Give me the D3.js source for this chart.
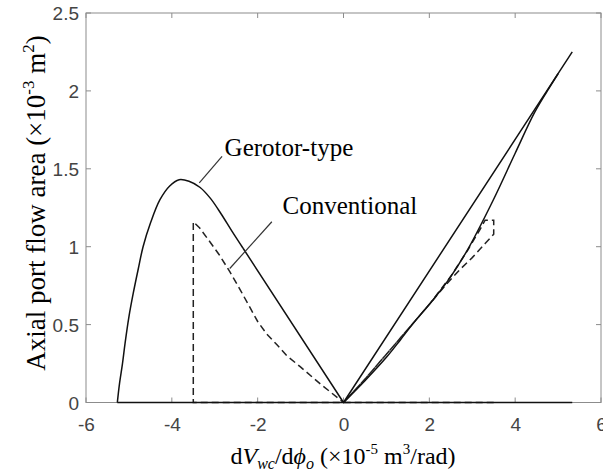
<!DOCTYPE html>
<html><head><meta charset="utf-8">
<script src="https://cdn.jsdelivr.net/npm/d3@7"></script>
<style>body{margin:0;background:#fff}</style>
</head><body><svg id="c" width="603" height="472"></svg>
<script>
// ---- data ----
const xTicks = [-6,-4,-2,0,2,4,6];
const xTickLabels = ["-6","-4","-2","0","2","4","6"];
const yTicks = [0,0.5,1,1.5,2,2.5];
const yTickLabels = ["0","0.5","1","1.5","2","2.5"];
// Gerotor-type segments
const gerBaseX = [5.33,-5.27];
const gerBaseY = [0,0];
const gerHumpX = [-5.27,-5.22,-5.15,-5.09,-5.0,-4.9,-4.78,-4.67,-4.5,-4.28,-4.05,-3.83,-3.6,-3.34,-3.1,-2.85,-2.6,-2.34];
const gerHumpY = [0,0.12,0.25,0.38,0.55,0.70,0.86,1.0,1.15,1.30,1.39,1.43,1.42,1.38,1.31,1.21,1.10,0.99];
const gerLinX = [-2.34,0,5.33];
const gerLinY = [0.99,0,2.25];
const gerLowX = [0,0.5,1.0,1.32,1.63,2.09,2.48,2.91,3.49,4.0,4.45,4.75,5.0];
const gerLowY = [0,0.14,0.29,0.40,0.51,0.66,0.80,0.99,1.30,1.60,1.86,2.0,2.11];
// Conventional
const convX = [3.5,-3.5,-3.5,-3.35,-3.11,-2.9,-2.65,-2.4,-2.18,-2.0,-1.79,-1.55,-1.32,-1.01,-0.5,0,0.5,1.0,1.5,2.0,2.5,2.9,3.2,3.3,3.5,3.5,3.3,3.0,2.7,2.4,2.0,1.5,1.0,0.5,0];
const convY = [0,0,1.16,1.12,1.03,0.95,0.84,0.72,0.61,0.52,0.44,0.37,0.30,0.23,0.11,0,0.15,0.31,0.47,0.63,0.81,0.98,1.12,1.17,1.17,1.08,1.02,0.93,0.85,0.76,0.63,0.47,0.31,0.15,0];
const labels = [
  {text:"Gerotor-type", tx:-2.77, ty:1.58, lx:[-3.36,-2.83], ly:[1.41,1.58]},
  {text:"Conventional", tx:-1.42, ty:1.21, lx:[-2.65,-1.67], ly:[0.86,1.16]}
];

const svg = d3.select("#c");
const L=86, R=601, T=13, B=402.5;
const x = d3.scaleLinear().domain([-6,6]).range([L,R]);
const y = d3.scaleLinear().domain([0,2.5]).range([B,T]);
const boxCol = "#8c8c8c", tickTxt = "#444";

svg.append("rect").attr("x",L).attr("y",T).attr("width",R-L).attr("height",B-T)
  .attr("fill","none").attr("stroke",boxCol).attr("stroke-width",1);

const tl = 5;
const bottom = d3.axisBottom(x).tickValues(xTicks).tickSize(0).tickPadding(0).tickFormat((d,i)=>xTickLabels[i]);
const gB = svg.append("g").attr("transform",`translate(0,${B})`).call(bottom);
gB.select(".domain").remove();
gB.selectAll("text").attr("dy",null).attr("y",28).attr("fill",tickTxt)
  .style("font-family","'Liberation Sans',Arial,sans-serif").style("font-size","19px");
const left = d3.axisLeft(y).tickValues(yTicks).tickSize(0).tickPadding(0).tickFormat((d,i)=>yTickLabels[i]);
const gL = svg.append("g").attr("transform",`translate(${L},0)`).call(left);
gL.select(".domain").remove();
gL.selectAll("text").attr("x",-7).attr("dy","0.35em").attr("fill",tickTxt)
  .style("font-family","'Liberation Sans',Arial,sans-serif").style("font-size","19px");

const tg = svg.append("g").attr("stroke",boxCol).attr("stroke-width",1);
xTicks.forEach(v=>{
  tg.append("line").attr("x1",x(v)).attr("x2",x(v)).attr("y1",B).attr("y2",B-tl);
  tg.append("line").attr("x1",x(v)).attr("x2",x(v)).attr("y1",T).attr("y2",T+tl);
});
yTicks.forEach(v=>{
  tg.append("line").attr("x1",L).attr("x2",L+tl).attr("y1",y(v)).attr("y2",y(v));
  tg.append("line").attr("x1",R).attr("x2",R-tl).attr("y1",y(v)).attr("y2",y(v));
});

const zip = (a,b)=>a.map((v,i)=>[v,b[i]]);
const line = d3.line().x(d=>x(d[0])).y(d=>y(d[1]));
const smooth = d3.line().x(d=>x(d[0])).y(d=>y(d[1])).curve(d3.curveCatmullRom.alpha(0.5));
svg.append("path").datum(zip(convX,convY)).attr("d",line)
  .attr("fill","none").attr("stroke","#222").attr("stroke-width",1.5).attr("stroke-dasharray","7,4");
const solid = (d,gen)=>svg.append("path").datum(d).attr("d",gen)
  .attr("fill","none").attr("stroke","#111").attr("stroke-width",1.5).attr("stroke-linejoin","round");
solid(zip(gerBaseX,gerBaseY),line);
solid(zip(gerHumpX,gerHumpY),smooth);
solid(zip(gerLinX,gerLinY),line);
solid(zip(gerLowX,gerLowY),smooth);

const serif = "'Liberation Serif','Times New Roman',serif";
labels.forEach(l=>{
  svg.append("line").attr("x1",x(l.lx[0])).attr("y1",y(l.ly[0])).attr("x2",x(l.lx[1])).attr("y2",y(l.ly[1]))
    .attr("stroke","#333").attr("stroke-width",1.2);
  svg.append("text").attr("x",x(l.tx)).attr("y",y(l.ty)).text(l.text)
    .style("font-family",serif).style("font-size","25px").attr("fill","#000");
});

const xl = svg.append("text").attr("x",343).attr("y",464).attr("text-anchor","middle")
  .style("font-family",serif).style("font-size","24px").attr("fill","#000");
xl.append("tspan").text("d");
xl.append("tspan").text("V").style("font-style","italic");
xl.append("tspan").text("wc").style("font-style","italic").style("font-size","16px").attr("dy",5);
xl.append("tspan").text("/d").attr("dy",-5);
xl.append("tspan").text("ϕ").style("font-style","italic");
xl.append("tspan").text("o").style("font-style","italic").style("font-size","16px").attr("dy",5);
xl.append("tspan").text(" (×10").attr("dy",-5);
xl.append("tspan").text("-5").style("font-size","15px").attr("dy",-10);
xl.append("tspan").text(" m").attr("dy",10);
xl.append("tspan").text("3").style("font-size","15px").attr("dy",-10);
xl.append("tspan").text("/rad)").attr("dy",10);

const yl = svg.append("text").attr("transform",`translate(45,203) rotate(-90)`).attr("text-anchor","middle")
  .style("font-family",serif).style("font-size","27px").attr("fill","#000");
yl.append("tspan").text("Axial port flow area (×10");
yl.append("tspan").text("-3").style("font-size","17px").attr("dy",-11);
yl.append("tspan").text(" m").attr("dy",11);
yl.append("tspan").text("2").style("font-size","17px").attr("dy",-11);
yl.append("tspan").text(")").attr("dy",11);
</script></body></html>
